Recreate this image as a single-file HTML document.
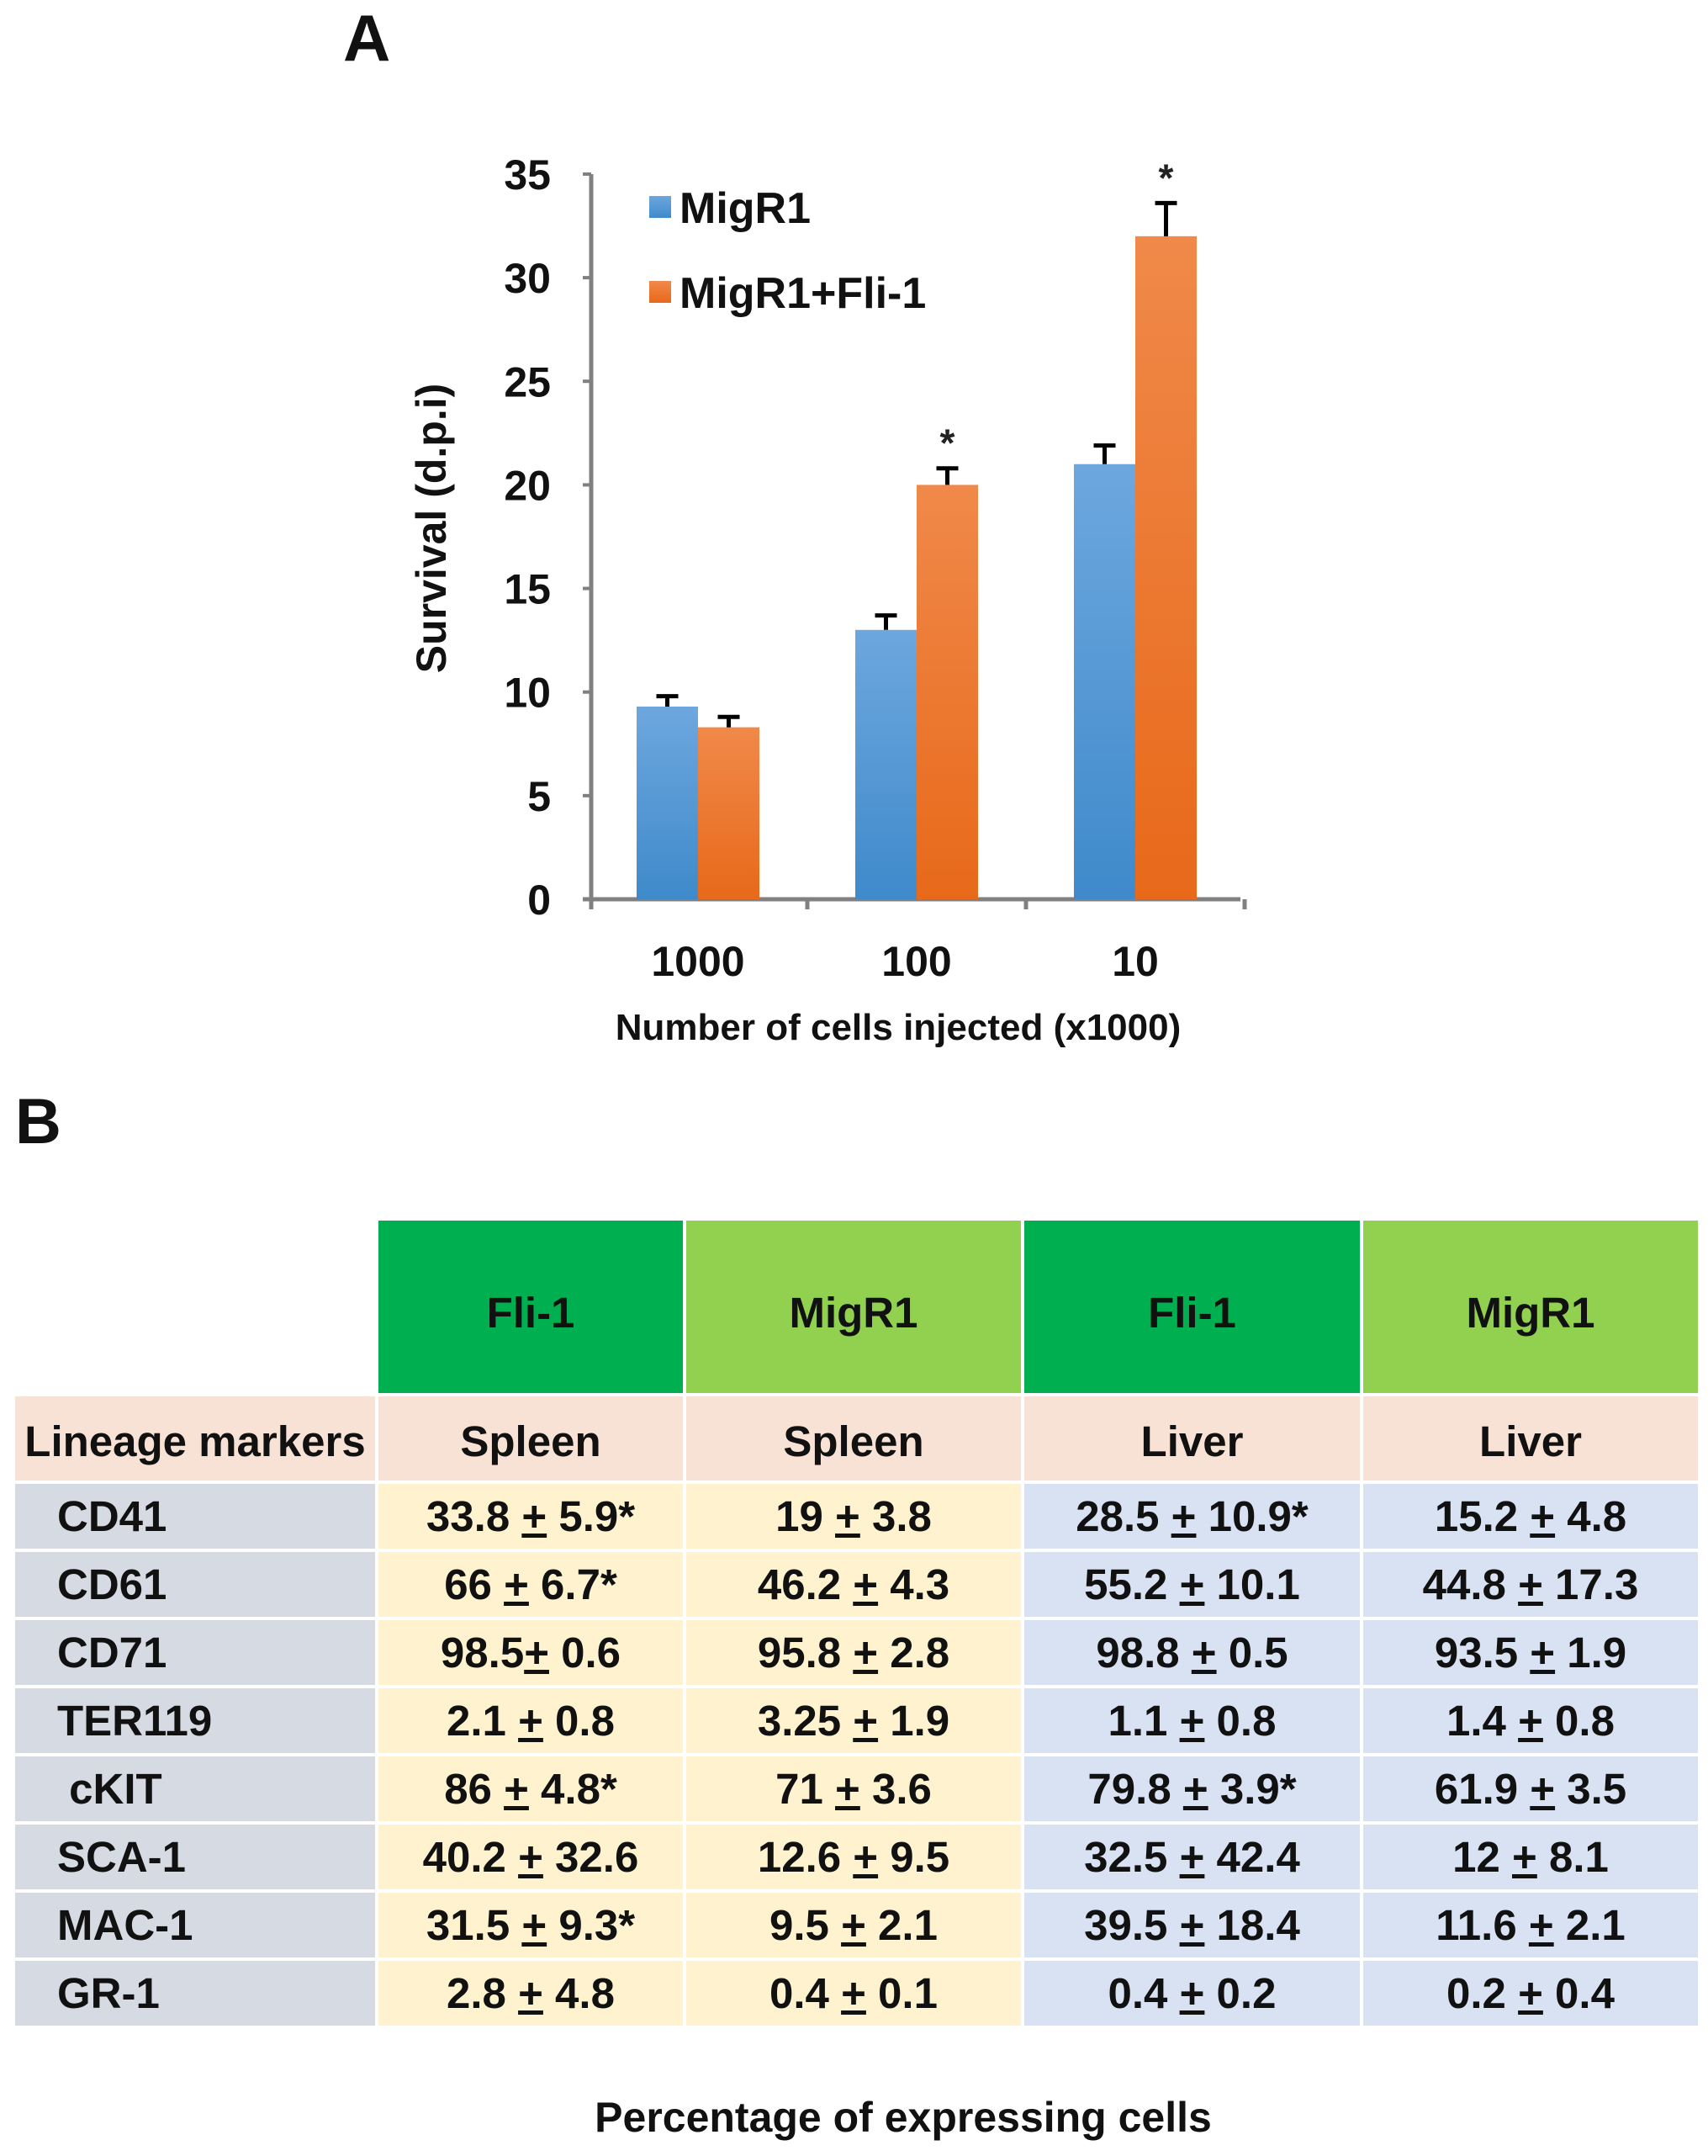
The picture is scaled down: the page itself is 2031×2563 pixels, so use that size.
<!DOCTYPE html>
<html><head><meta charset="utf-8">
<style>
html,body{margin:0;padding:0;background:#fff;}
body{width:2031px;height:2563px;position:relative;overflow:hidden;font-family:"Liberation Sans",Arial,sans-serif;}
.lbl{position:absolute;font-weight:bold;color:#111;}
table{position:absolute;left:14px;top:1447px;border-collapse:separate;border-spacing:4px;font-family:"Liberation Sans",sans-serif;font-weight:bold;font-size:51px;color:#111;}
td{padding:0;text-align:center;}
.hd1{background:#00b050;padding-top:14px;}
.hd2{background:#92d050;padding-top:14px;}
.pe{background:#f8e2d6;padding-top:6px;}
.ye{background:#fef2cf;}
.bl{background:#d9e2f2;}
.gr{background:#d6dae3;text-align:left;padding-left:50px;}
</style></head><body>
<div class="lbl" style="left:408px;top:0px;font-size:78px;">A</div>
<svg id="chart" width="2031" height="1300" style="position:absolute;left:0;top:0">
<defs>
<linearGradient id="gb" x1="0" y1="0" x2="0" y2="1"><stop offset="0" stop-color="#6da7de"/><stop offset="1" stop-color="#3f8acb"/></linearGradient>
<linearGradient id="go" x1="0" y1="0" x2="0" y2="1"><stop offset="0" stop-color="#f0894a"/><stop offset="1" stop-color="#e8691a"/></linearGradient>
</defs>
</svg>
<div class="lbl" style="left:18px;top:1290px;font-size:76px;">B</div>
<table>
<tr style="height:205px"><td style="width:428px"></td>
<td class="hd1" style="width:362px">Fli-1</td>
<td class="hd2" style="width:398px">MigR1</td>
<td class="hd1" style="width:399px">Fli-1</td>
<td class="hd2" style="width:398px">MigR1</td></tr>
<tr style="height:100px"><td class="pe">Lineage markers</td>
<td class="pe">Spleen</td><td class="pe">Spleen</td>
<td class="pe">Liver</td><td class="pe">Liver</td></tr>
<tbody id="tb"></tbody>
</table>
<div class="lbl" style="left:0;width:2148px;text-align:center;top:2488px;font-size:50px;">Percentage of expressing cells</div>
<script>
const categories=["1000","100","10"];
const migr1=[9.3,13,21];
const migr1Err=[0.5,0.7,0.9];
const fli1=[8.3,20,32];
const fli1Err=[0.5,0.8,1.6];
const sig=[false,true,true];
const yTicks=[0,5,10,15,20,25,30,35];
const NS="http://www.w3.org/2000/svg";
const svg=document.getElementById('chart');
const X0=703,Y0=1069,PX=24.63,BAND=260,BW=73,XEND=1475;
function y(v){return Y0-v*PX;}
function bx(i){return X0+BAND/2+BAND*i-3;}
function mk(t,a){const e=document.createElementNS(NS,t);for(const k in a)e.setAttribute(k,a[k]);svg.appendChild(e);return e;}
let ax=mk('line',{x1:X0,y1:y(35),x2:X0,y2:Y0+8,stroke:'#808080','stroke-width':5});


let axx=mk('line',{x1:X0-10,y1:Y0,x2:XEND,y2:Y0,stroke:'#808080','stroke-width':5});


for(let i=0;i<=3;i++){const t=mk('line',{x1:X0+BAND*i-(i?3:0),y1:Y0,x2:X0+BAND*i-(i?3:0),y2:Y0+12,stroke:'#808080','stroke-width':5});

}
yTicks.forEach(v=>{
const tk=mk('line',{x1:X0-10,y1:y(v),x2:X0,y2:y(v),stroke:'#808080','stroke-width':4});


const t=mk('text',{x:655,y:y(v)+18,'text-anchor':'end','font-size':50,'font-weight':'bold',fill:'#111'});t.textContent=v;

});
categories.forEach((c,i)=>{
const t=mk('text',{x:bx(i),y:1160,'text-anchor':'middle','font-size':50,'font-weight':'bold',fill:'#111'});t.textContent=c;


[[migr1,migr1Err,'url(#gb)',bx(i)-BW,'bar-migr1'],[fli1,fli1Err,'url(#go)',bx(i),'bar-fli1']].forEach(s=>{
const v=s[0][i],e=s[1][i];
const r=mk('rect',{x:s[3],y:y(v),width:BW,height:Y0-y(v),fill:s[2]});


const cx=s[3]+BW/2;
const el=mk('path',{d:`M${cx} ${y(v)} V${y(v+e)} M${cx-13} ${y(v+e)} H${cx+13}`,stroke:'#000','stroke-width':5,fill:'none'});


});
if(sig[i]){const a=mk('text',{x:bx(i)+BW/2,y:y(fli1[i]+fli1Err[i])-14,'text-anchor':'middle','font-size':46,'font-weight':'bold',fill:'#222'});a.textContent='*';

}
});
const yt=mk('text',{x:0,y:0,transform:'translate(530,628) rotate(-90)','text-anchor':'middle','font-size':50,'font-weight':'bold',fill:'#111'});yt.textContent='Survival (d.p.i)';


const xt=mk('text',{x:1068,y:1236,'text-anchor':'middle','font-size':44,'font-weight':'bold',fill:'#111','xml:space':'preserve'});xt.textContent='Number  of cells injected  (x1000)';


[['MigR1','url(#gb)',257,'legend-migr1'],['MigR1+Fli-1','url(#go)',358,'legend-migr1-fli1']].forEach(l=>{
const sq=mk('rect',{x:772,y:l[2]-24,width:26,height:26,fill:l[1]});


const t=mk('text',{x:808,y:l[2]+8,'font-size':52,'font-weight':'bold',fill:'#111'});t.textContent=l[0];

});
const markers=["CD41","CD61","CD71","TER119","cKIT","SCA-1","MAC-1","GR-1"];
const c1=[["33.8 ","5.9*"],["66 ","6.7*"],["98.5","0.6"],["2.1 ","0.8"],["86 ","4.8*"],["40.2 ","32.6"],["31.5 ","9.3*"],["2.8 ","4.8"]];
const c2=[["19 ","3.8"],["46.2 ","4.3"],["95.8 ","2.8"],["3.25 ","1.9"],["71 ","3.6"],["12.6 ","9.5"],["9.5 ","2.1"],["0.4 ","0.1"]];
const c3=[["28.5 ","10.9*"],["55.2 ","10.1"],["98.8 ","0.5"],["1.1 ","0.8"],["79.8 ","3.9*"],["32.5 ","42.4"],["39.5 ","18.4"],["0.4 ","0.2"]];
const c4=[["15.2 ","4.8"],["44.8 ","17.3"],["93.5 ","1.9"],["1.4 ","0.8"],["61.9 ","3.5"],["12 ","8.1"],["11.6 ","2.1"],["0.2 ","0.4"]];
const tb=document.getElementById('tb');
markers.forEach((m,i)=>{
const tr=document.createElement('tr');tr.style.height='77px';


let h=`<td class="gr">${m==='cKIT'?'&nbsp;':''}${m}</td>`;
[[c1,'ye'],[c2,'ye'],[c3,'bl'],[c4,'bl']].forEach(c=>{h+=`<td class="${c[1]}">${c[0][i][0]}<u>+</u> ${c[0][i][1]}</td>`;});
tr.innerHTML=h;tb.appendChild(tr);});
</script>
</body></html>
